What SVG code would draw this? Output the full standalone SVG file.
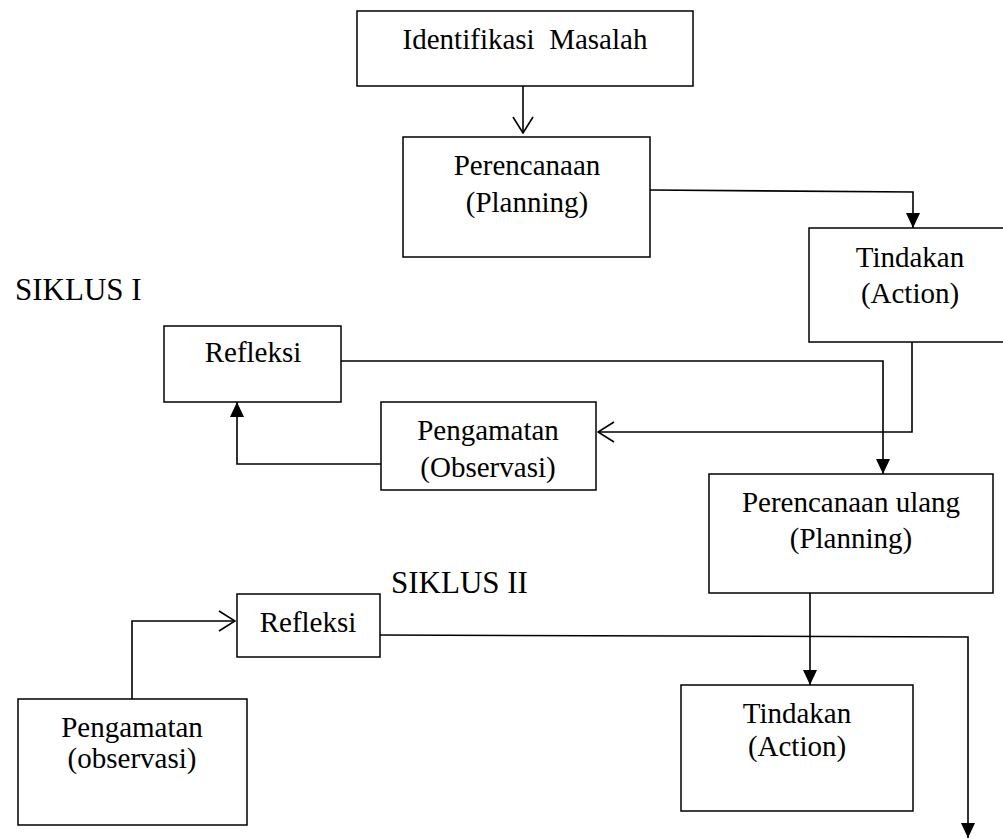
<svg xmlns="http://www.w3.org/2000/svg" width="1003" height="839" viewBox="0 0 1003 839">
<style>
  .box { fill: #ffffff; stroke: #000000; stroke-width: 1.5; }
  .lbl { font-family: "Liberation Serif", "Times New Roman", serif; font-size: 29px; fill: #000000; text-anchor: middle; white-space: pre; }
  .title { font-family: "Liberation Serif", "Times New Roman", serif; font-size: 31px; fill: #000000; }
  .con { fill: none; stroke: #000000; stroke-width: 1.6; }
</style>
<defs>
  <marker id="filled" viewBox="0 0 15 14" refX="15" refY="7" markerWidth="15" markerHeight="14" markerUnits="userSpaceOnUse" orient="auto">
    <path d="M0,0 L15,7 L0,14 Z" fill="#000000"/>
  </marker>
  <marker id="open" viewBox="0 0 18 22" refX="17" refY="11" markerWidth="18" markerHeight="22" markerUnits="userSpaceOnUse" orient="auto">
    <path d="M1,1 L17,11 L1,21" fill="none" stroke="#000000" stroke-width="1.6"/>
  </marker>
</defs>
<rect width="1003" height="839" fill="#ffffff"/>

<g id="connectors">
  <path class="con" d="M523,86 L523,133" marker-end="url(#open)"/>
  <path class="con" d="M650,190 L913,192 L913,228" marker-end="url(#filled)"/>
  <path class="con" d="M912,342 L912,432 L598,432" marker-end="url(#open)"/>
  <path class="con" d="M341,361 L883,361 L883,474" marker-end="url(#filled)"/>
  <path class="con" d="M381,464 L237,464 L237,402" marker-end="url(#filled)"/>
  <path class="con" d="M810,593 L810,685" marker-end="url(#filled)"/>
  <path class="con" d="M380,635 L968,637 L968,838" marker-end="url(#filled)"/>
  <path class="con" d="M132,699 L132,621 L235,621" marker-end="url(#open)"/>
</g>

<g id="identifikasi">
  <rect class="box" x="357" y="11" width="336" height="75"/>
  <text class="lbl" x="525" y="49">Identifikasi  Masalah</text>
</g>
<g id="perencanaan">
  <rect class="box" x="403" y="137" width="247" height="120"/>
  <text class="lbl" x="527" y="175">Perencanaan</text>
  <text class="lbl" x="527" y="212">(Planning)</text>
</g>
<g id="tindakan1">
  <rect class="box" x="809" y="228" width="200" height="114"/>
  <text class="lbl" x="910" y="267">Tindakan</text>
  <text class="lbl" x="910" y="303">(Action)</text>
</g>
<g id="siklus1">
  <text class="title" x="15" y="300">SIKLUS I</text>
</g>
<g id="refleksi1">
  <rect class="box" x="164" y="326" width="177" height="76"/>
  <text class="lbl" x="253" y="362">Refleksi</text>
</g>
<g id="pengamatan1">
  <rect class="box" x="381" y="402" width="215" height="88"/>
  <text class="lbl" x="488" y="440">Pengamatan</text>
  <text class="lbl" x="488" y="477">(Observasi)</text>
</g>
<g id="perencanaan-ulang">
  <rect class="box" x="709" y="474" width="284" height="119"/>
  <text class="lbl" x="851" y="512">Perencanaan ulang</text>
  <text class="lbl" x="851" y="548">(Planning)</text>
</g>
<g id="siklus2">
  <text class="title" x="391" y="593">SIKLUS II</text>
</g>
<g id="refleksi2">
  <rect class="box" x="237" y="594" width="143" height="63"/>
  <text class="lbl" x="308" y="632">Refleksi</text>
</g>
<g id="tindakan2">
  <rect class="box" x="681" y="685" width="232" height="126"/>
  <text class="lbl" x="797" y="723">Tindakan</text>
  <text class="lbl" x="797" y="756">(Action)</text>
</g>
<g id="pengamatan2">
  <rect class="box" x="18" y="699" width="229" height="126"/>
  <text class="lbl" x="132" y="737">Pengamatan</text>
  <text class="lbl" x="132" y="768">(observasi)</text>
</g>
</svg>
